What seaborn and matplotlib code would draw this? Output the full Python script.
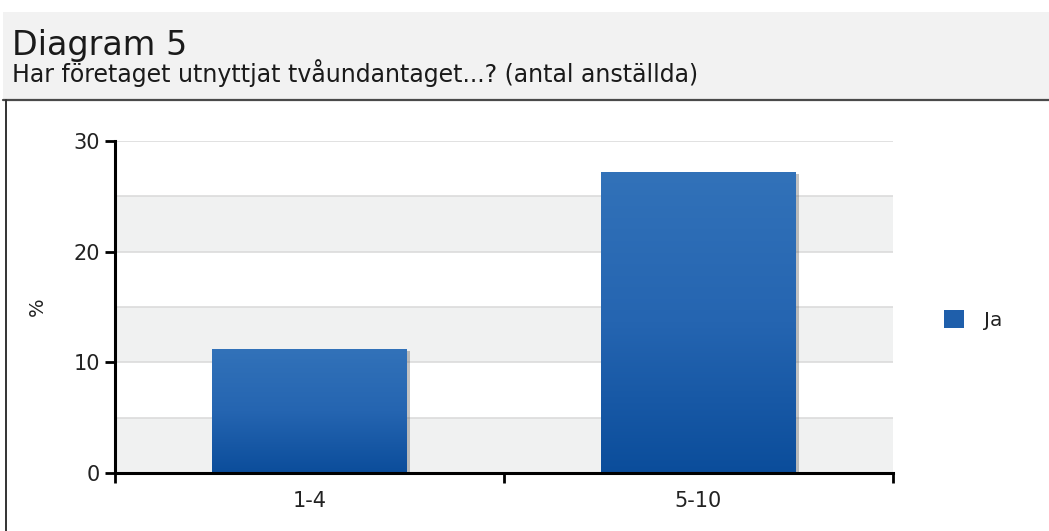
import numpy as np
import pandas as pd
import seaborn as sns
import matplotlib.pyplot as plt
import matplotlib.patheffects as pe
from matplotlib.colors import LinearSegmentedColormap
from matplotlib.lines import Line2D
from matplotlib.patches import Rectangle

# Data
categories = ["1-4", "5-10"]
values = [11.2, 27.2]
series = ["Ja", "Ja"]

title = "Diagram 5"
subtitle = "Har företaget utnyttjat tvåundantaget...? (antal anställda)"

df = pd.DataFrame({"antal": categories, "procent": values, "svar": series})

sns.set_theme(style="white")
plt.rcParams['font.family'] = ['DejaVu Sans']

fig = plt.figure(figsize=(10.49, 5.31), dpi=100)
W, H = 1049, 531

# header band
fig.patches.append(Rectangle((3 / W, 1 - 99 / H), 1, 87 / H, transform=fig.transFigure,
                             facecolor="#f2f2f2", edgecolor="none", zorder=0))
fig.lines.append(Line2D([3 / W, 1], [1 - 99.5 / H, 1 - 99.5 / H], transform=fig.transFigure,
                        color="#4a4a4a", linewidth=1.6))
fig.lines.append(Line2D([6 / W, 6 / W], [0, 1 - 100 / H], transform=fig.transFigure,
                        color="#333333", linewidth=1.4))
fig.text(12 / W, 1 - 55 / H, title, fontsize=24, color="#1a1a1a", va="baseline")
fig.text(12 / W, 1 - 82 / H, subtitle, fontsize=17, color="#1a1a1a", va="baseline")

ax = fig.add_axes([115 / W, 1 - 473 / H, 778 / W, 332 / H])

sns.barplot(data=df, x="antal", y="procent", hue="svar", palette=["#1f5fab"],
            width=0.5, ax=ax, saturation=1, edgecolor="none")

# gradient fill + shadow on bars
cmap = LinearSegmentedColormap.from_list("bar", ["#0b4d9b", "#2565b1", "#3272b9"])
grad = np.linspace(0, 1, 256).reshape(-1, 1)
for bar in ax.containers[0]:
    bar.set_zorder(2)
    bar.set_path_effects([pe.SimplePatchShadow(offset=(2.5, -1.5), alpha=0.35, shadow_rgbFace="#555555"),
                          pe.Normal()])
    x, y = bar.get_x(), bar.get_y()
    w, h = bar.get_width(), bar.get_height()
    im = ax.imshow(grad, extent=[x, x + w, y, y + h], origin="lower", cmap=cmap,
                   aspect="auto", zorder=2.1, interpolation="bicubic")
    im.set_clip_path(bar)

ax.set_xlim(-0.5, 1.5)
ax.set_ylim(0, 30)

# alternating bands
for i, lo in enumerate(range(0, 30, 5)):
    if i % 2 == 0:
        ax.axhspan(lo, lo + 5, facecolor="#f0f1f1", edgecolor="none", zorder=0)

ax.set_yticks([0, 10, 20, 30])
ax.set_yticks([5, 15, 25], minor=True)
ax.set_xticks([-0.5, 0.5, 1.5], minor=True)
ax.set_axisbelow(True)
ax.grid(axis="y", which="both", color="#d9d9d9", linewidth=1.1)

ax.tick_params(axis="y", which="major", direction="out", length=7, width=2, color="black",
               labelsize=15, labelcolor="#222222", pad=4, left=True)
ax.tick_params(axis="y", which="minor", length=0)
ax.tick_params(axis="x", which="major", length=0, labelsize=15, labelcolor="#222222", pad=13)
ax.tick_params(axis="x", which="minor", direction="out", length=7, width=2, color="black", bottom=True)

for side in ["top", "right"]:
    ax.spines[side].set_visible(False)
for side in ["left", "bottom"]:
    ax.spines[side].set_color("black")
    ax.spines[side].set_linewidth(2.2)
    ax.spines[side].set_zorder(3)

ax.set_xlabel("")
ax.set_ylabel("%", fontsize=14, color="#222222")
ax.yaxis.set_label_coords(-0.0874, 0.5)

ax.legend(loc="center left", bbox_to_anchor=(1.0656, 0.461), frameon=False,
          borderpad=0, borderaxespad=0, handlelength=1.0, handleheight=1.0,
          handletextpad=1.0, fontsize=14.5, labelcolor="#222222")

fig.savefig("out.png", dpi=100)
